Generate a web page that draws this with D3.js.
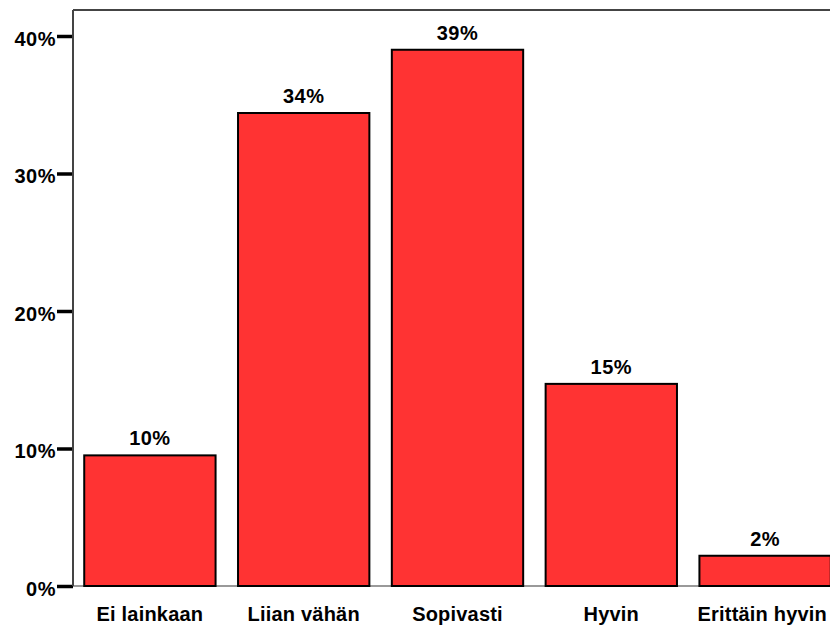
<!DOCTYPE html>
<html>
<head>
<meta charset="utf-8">
<script src="https://cdn.jsdelivr.net/npm/d3@7"></script>
<style>
  body { margin: 0; background: #fff; }
  svg { display: block; }
  text { font-family: "Liberation Sans", Arial, sans-serif; font-weight: bold; fill: #000; }
</style>
</head>
<body>
<div id="chart"></div>
<script>
var categories = ["Ei lainkaan", "Liian vähän", "Sopivasti", "Hyvin", "Erittäin hyvin"];
var values = [9.5, 34.4, 39.0, 14.7, 2.2];
var valueLabels = ["10%", "34%", "39%", "15%", "2%"];
var yTicks = [0, 10, 20, 30, 40];

var dim = {
    width: 830,
    height: 627,
    margin: { top: 10, left: 73, bottom: 41 },
    plotRight: 842
};
var baseY = dim.height - dim.margin.bottom;

var svg = d3.select("#chart").append("svg")
    .attr("width", dim.width)
    .attr("height", dim.height);

var x = d3.scaleBand()
    .domain(categories)
    .range([dim.margin.left, dim.plotRight])
    .paddingInner(0.146)
    .paddingOuter(0.073);

var y = d3.scaleLinear()
    .domain([0, 40])
    .range([baseY, 36]);

// frame: top and baseline
svg.append("line")
    .attr("x1", dim.margin.left).attr("x2", dim.width + 10)
    .attr("y1", dim.margin.top).attr("y2", dim.margin.top)
    .attr("stroke", "#444").attr("stroke-width", 2);

svg.append("line")
    .attr("x1", dim.margin.left).attr("x2", dim.width + 10)
    .attr("y1", baseY).attr("y2", baseY)
    .attr("stroke", "#999").attr("stroke-width", 2);

// bars
svg.append("g").selectAll("rect")
    .data(values)
    .enter().append("rect")
    .attr("x", function(d, i) { return x(categories[i]); })
    .attr("y", function(d) { return y(d); })
    .attr("width", x.bandwidth())
    .attr("height", function(d) { return y(0) - y(d); })
    .attr("fill", "#ff3333")
    .attr("stroke", "#000")
    .attr("stroke-width", 2);

// value labels
svg.append("g").selectAll("text")
    .data(values)
    .enter().append("text")
    .attr("x", function(d, i) { return x(categories[i]) + x.bandwidth() / 2; })
    .attr("y", function(d) { return y(d) - 10; })
    .attr("text-anchor", "middle")
    .style("font-size", "20px")
    .style("letter-spacing", "0.5px")
    .text(function(d, i) { return valueLabels[i]; });

// y axis
var yAxis = d3.axisLeft(y)
    .tickValues(yTicks)
    .tickSize(16)
    .tickPadding(1)
    .tickFormat(function(d) { return d + "%"; });

var gy = svg.append("g")
    .attr("transform", "translate(" + dim.margin.left + ",0)")
    .call(yAxis);
gy.select(".domain").remove();
gy.selectAll(".tick line").attr("stroke", "#000").attr("stroke-width", 3.5);
gy.selectAll(".tick text")
    .style("font-size", "20px")
    .style("letter-spacing", "0.5px")
    .attr("dy", "0.45em")
    .attr("fill", "#000");

svg.append("line")
    .attr("x1", dim.margin.left).attr("x2", dim.margin.left)
    .attr("y1", dim.margin.top).attr("y2", baseY)
    .attr("stroke", "#444").attr("stroke-width", 2);

// category labels (last one is nudged left so it stays inside the picture)
svg.append("g").selectAll("text")
    .data(categories)
    .enter().append("text")
    .attr("x", function(d) { return x(d) + x.bandwidth() / 2; })
    .attr("y", baseY + 35)
    .attr("text-anchor", "middle")
    .style("font-size", "20px")
    .style("letter-spacing", "0.2px")
    .text(function(d) { return d; })
    .each(function() {
        var w = this.getComputedTextLength();
        var cx = +this.getAttribute("x");
        if (cx + w / 2 > dim.width - 3) this.setAttribute("x", dim.width - 3 - w / 2);
    });
</script>
</body>
</html>
